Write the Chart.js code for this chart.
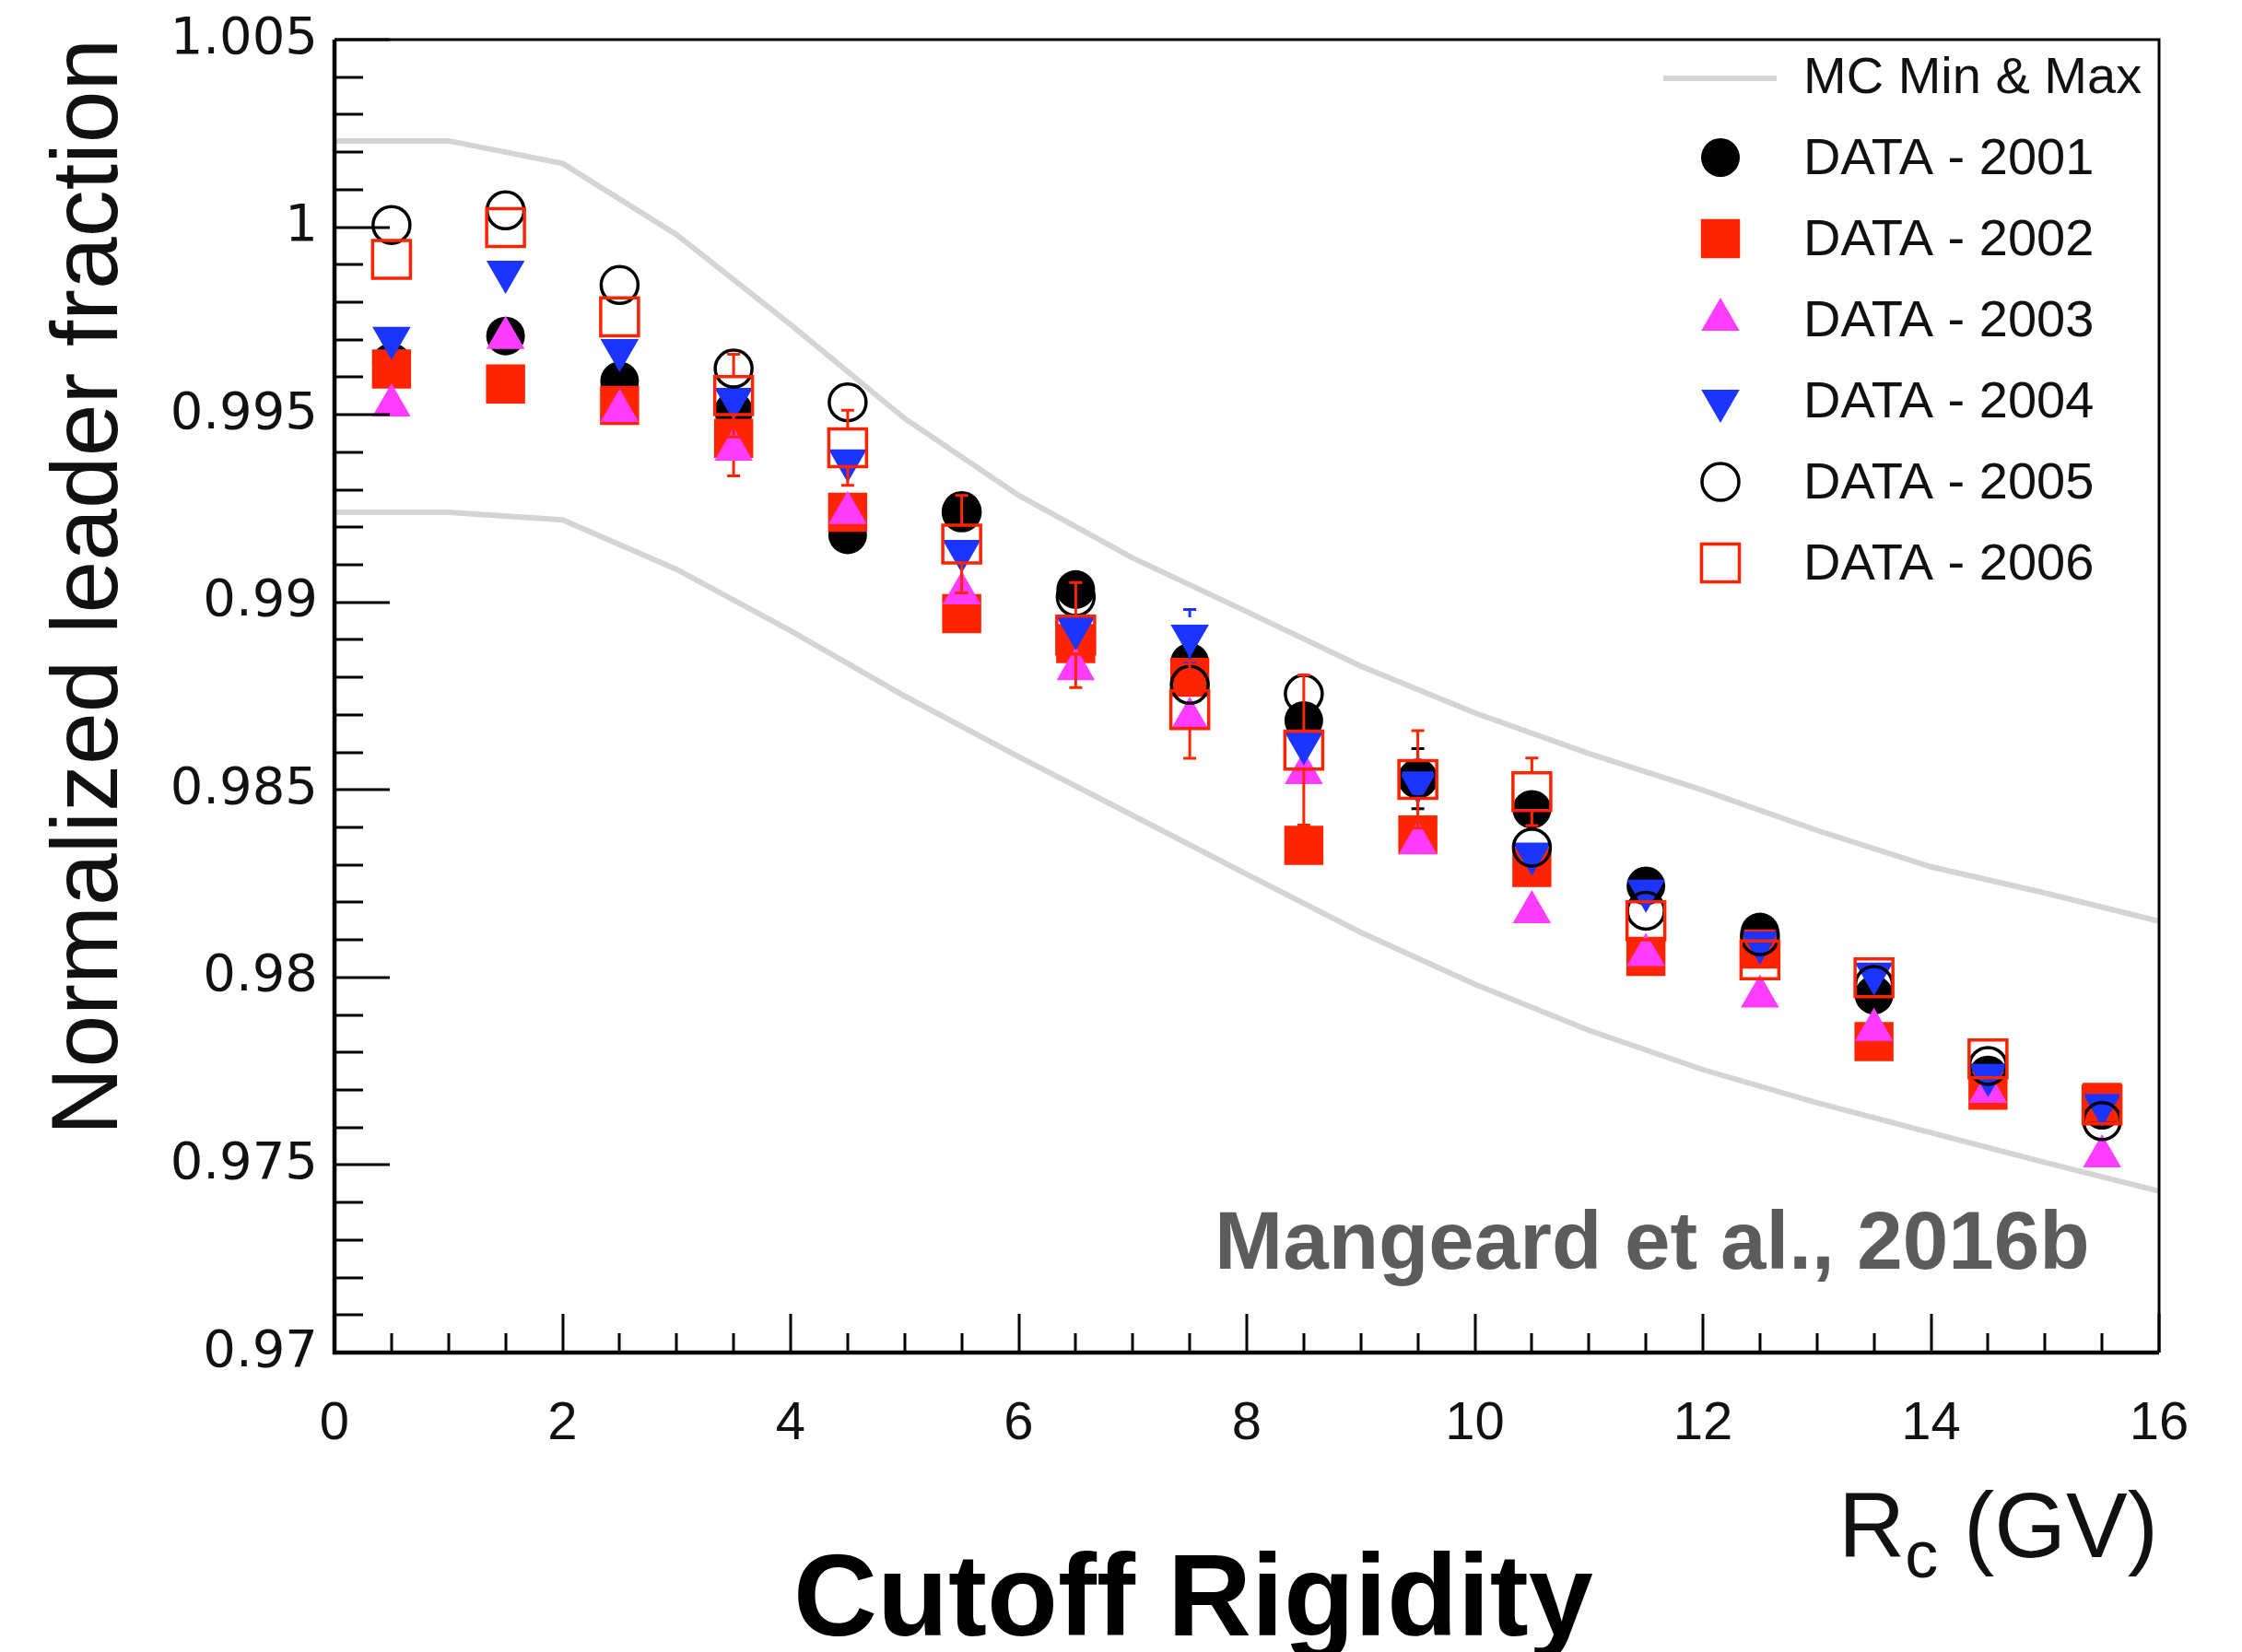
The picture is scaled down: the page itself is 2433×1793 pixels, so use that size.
<!DOCTYPE html>
<html>
<head>
<meta charset="utf-8">
<script src="https://cdn.jsdelivr.net/npm/chart.js@4.4.1/dist/chart.umd.min.js"></script>
<style>
  html, body { margin: 0; padding: 0; background: #ffffff; }
  #wrap { width: 2433px; height: 1793px; position: relative; }
</style>
</head>
<body>
<div id="wrap"><canvas id="c" width="2433" height="1793"></canvas></div>
<script>
// ---------------- DATA ----------------
const rigidity = [0.5, 1.5, 2.5, 3.5, 4.5, 5.5, 6.5, 7.5, 8.5, 9.5, 10.5, 11.5, 12.5, 13.5, 14.5, 15.5];

const data2001 = [0.9964, 0.9971, 0.9959, 0.9951, 0.9918, 0.99245, 0.99034, 0.9884, 0.98685, 0.9853, 0.98448, 0.98244, 0.98121, 0.97953, 0.9774, 0.97646];
const data2002 = [0.99622, 0.99582, 0.99525, 0.99437, 0.9924, 0.9897, 0.9889, 0.9880, 0.98352, 0.9838, 0.98293, 0.98056, 0.98076, 0.97829, 0.97699, 0.97667];
const data2003 = [0.99525, 0.99705, 0.9951, 0.99407, 0.99238, 0.99024, 0.98822, 0.9869, 0.98545, 0.98358, 0.98174, 0.9806, 0.97949, 0.9786, 0.97695, 0.97523];
const data2004 = [0.99705, 0.99881, 0.99672, 0.99542, 0.99378, 0.99137, 0.98931, 0.98911, 0.98624, 0.9852, 0.9833, 0.98231, 0.98093, 0.9801, 0.9774, 0.9766];
const data2005 = [1.00006, 1.00045, 0.99846, 0.99623, 0.99533, 0.9924, 0.99014, 0.9878, 0.98756, 0.9853, 0.98346, 0.98178, 0.9811, 0.9798, 0.97764, 0.97617];
const data2006 = [0.99914, 0.99999, 0.99761, 0.99551, 0.99412, 0.99155, 0.98913, 0.98714, 0.98606, 0.98528, 0.98495, 0.98151, 0.98047, 0.97999, 0.97783, 0.9766];

const err2001 = [0.0004, 0.0004, 0.0004, 0.0004, 0.0004, 0.0004, 0.0004, 0.0004, 0.0004, 0.0008, 0.0004, 0.0004, 0.0004, 0.0004, 0.0004, 0.0004];
const err2002 = [0.0004, 0.0004, 0.0004, 0.0010, 0.0004, 0.0004, 0.0004, 0.0004, 0.0004, 0.0004, 0.0004, 0.0004, 0.0004, 0.0004, 0.0004, 0.0004];
const err2003 = [0.0003, 0.0003, 0.0003, 0.0003, 0.0003, 0.0003, 0.0003, 0.0003, 0.0003, 0.0003, 0.0003, 0.0003, 0.0003, 0.0003, 0.0003, 0.0003];
const err2004 = [0.0003, 0.0003, 0.0003, 0.0003, 0.0003, 0.0003, 0.0003, 0.0007, 0.0003, 0.0003, 0.0003, 0.0003, 0.0003, 0.0003, 0.0003, 0.0003];
const err2005 = [0.0004, 0.0004, 0.0004, 0.0004, 0.0004, 0.0004, 0.0004, 0.0004, 0.0004, 0.0004, 0.0004, 0.0004, 0.0004, 0.0004, 0.0004, 0.0004];
const err2006 = [0.0004, 0.0004, 0.0004, 0.0011, 0.0010, 0.0013, 0.0014, 0.0013, 0.0020, 0.0013, 0.0009, 0.0005, 0.0004, 0.0004, 0.0004, 0.0004];

const mcRigidity = [0, 1, 2, 3, 4, 5, 6, 7, 8, 9, 10, 11, 12, 13, 14, 15, 16];
const mcMax = [1.0023, 1.0023, 1.0017, 0.9998, 0.9974, 0.9949, 0.99285, 0.99118, 0.98975, 0.9883, 0.98705, 0.98597, 0.98499, 0.98392, 0.98295, 0.98225, 0.9815];
const mcMin = [0.9924, 0.9924, 0.9922, 0.99088, 0.98924, 0.9875, 0.98588, 0.98432, 0.98275, 0.9812, 0.97982, 0.97859, 0.97754, 0.97666, 0.97586, 0.97507, 0.9743];

const xTickLabels = ['0', '2', '4', '6', '8', '10', '12', '14', '16'];
const yTickLabels = ['0.97', '0.975', '0.98', '0.985', '0.99', '0.995', '1', '1.005'];

const seriesLabels = ['DATA - 2001', 'DATA - 2002', 'DATA - 2003', 'DATA - 2004', 'DATA - 2005', 'DATA - 2006'];
const mcLabel = 'MC Min & Max';

// ---------------- STYLES ----------------
const BLACK = '#000000', RED = 'rgb(255,36,0)', MAGENTA = 'rgb(255,60,255)', BLUE = 'rgb(28,52,255)', GREY = 'rgb(212,212,212)';

function pts(xs, ys) { return xs.map((x, i) => ({ x: x, y: ys[i] })); }

function markerSet(label, ys, errs, style, order) {
  return Object.assign({
    label: label,
    data: pts(rigidity, ys),
    errors: errs,
    showLine: false,
    order: order
  }, style);
}

const styles = [
  { pointStyle: 'circle', pointRadius: 21, pointRotation: 0, pointBackgroundColor: BLACK, pointBorderColor: BLACK, pointBorderWidth: 0, errColor: BLACK, errGap: 21 },
  { pointStyle: 'rect', pointRadius: 30, pointRotation: 0, pointBackgroundColor: RED, pointBorderColor: RED, pointBorderWidth: 0, errColor: RED, errGap: 21 },
  { pointStyle: 'triangle', pointRadius: 24, pointRotation: 0, pointBackgroundColor: MAGENTA, pointBorderColor: MAGENTA, pointBorderWidth: 0, errColor: MAGENTA, errGap: 20 },
  { pointStyle: 'triangle', pointRadius: 24, pointRotation: 180, pointBackgroundColor: BLUE, pointBorderColor: BLUE, pointBorderWidth: 0, errColor: BLUE, errGap: 20 },
  { pointStyle: 'circle', pointRadius: 20, pointRotation: 0, pointBackgroundColor: 'rgba(0,0,0,0)', pointBorderColor: BLACK, pointBorderWidth: 3.5, errColor: BLACK, errGap: 21 },
  { pointStyle: 'rect', pointRadius: 29, pointRotation: 0, pointBackgroundColor: 'rgba(0,0,0,0)', pointBorderColor: RED, pointBorderWidth: 3.5, errColor: RED, errGap: 21 }
];

const datasets = [
  { label: mcLabel, data: pts(mcRigidity, mcMax), showLine: true, borderColor: GREY, borderWidth: 6, pointRadius: 0, tension: 0, order: 20 },
  { label: mcLabel + ' (min)', data: pts(mcRigidity, mcMin), showLine: true, borderColor: GREY, borderWidth: 6, pointRadius: 0, tension: 0, order: 21 },
  markerSet(seriesLabels[0], data2001, err2001, styles[0], 6),
  markerSet(seriesLabels[1], data2002, err2002, styles[1], 5),
  markerSet(seriesLabels[2], data2003, err2003, styles[2], 4),
  markerSet(seriesLabels[3], data2004, err2004, styles[3], 3),
  markerSet(seriesLabels[4], data2005, err2005, styles[4], 2),
  markerSet(seriesLabels[5], data2006, err2006, styles[5], 1)
];

// ---------------- HELPERS ----------------
function drawMarker(ctx, st, x, y) {
  ctx.save();
  ctx.fillStyle = st.pointBackgroundColor;
  ctx.strokeStyle = st.pointBorderColor;
  ctx.lineWidth = st.pointBorderWidth;
  if (Chart.helpers && Chart.helpers.drawPoint) {
    Chart.helpers.drawPoint(ctx, { pointStyle: st.pointStyle, radius: st.pointRadius, rotation: st.pointRotation, borderWidth: st.pointBorderWidth }, x, y);
  }
  ctx.restore();
}

const decor = {
  id: 'decor',
  beforeDatasetDraw(chart, args) {
    const ds = chart.data.datasets[args.index];
    if (!ds.errors) return;
    const xs = chart.scales.x, ys = chart.scales.y, ctx = chart.ctx;
    ctx.save();
    ctx.strokeStyle = ds.errColor;
    ctx.lineWidth = 3;
    ds.data.forEach((p, i) => {
      const e = ds.errors[i];
      const px = xs.getPixelForValue(p.x);
      const pc = ys.getPixelForValue(p.y);
      const y1 = ys.getPixelForValue(p.y + e);
      const y2 = ys.getPixelForValue(p.y - e);
      if (pc - y1 <= ds.errGap) return;
      ctx.beginPath();
      ctx.moveTo(px, y1); ctx.lineTo(px, pc - ds.errGap);
      ctx.moveTo(px, y2); ctx.lineTo(px, pc + ds.errGap);
      ctx.moveTo(px - 7, y1); ctx.lineTo(px + 7, y1);
      ctx.moveTo(px - 7, y2); ctx.lineTo(px + 7, y2);
      ctx.stroke();
    });
    ctx.restore();
  },
  afterDraw(chart) {
    const ctx = chart.ctx, a = chart.chartArea;
    const xs = chart.scales.x, ys = chart.scales.y;
    ctx.save();
    // ---- ticks (inward) ----
    ctx.strokeStyle = '#000';
    ctx.lineWidth = 3;
    ctx.beginPath();
    for (let i = 0; i <= 32; i++) {
      const v = i * 0.5;
      const px = Math.round(xs.getPixelForValue(v));
      const len = (i % 4 === 0) ? 42 : 21;
      ctx.moveTo(px, a.bottom); ctx.lineTo(px, a.bottom - len);
    }
    for (let i = 0; i <= 35; i++) {
      const v = 0.97 + i * 0.001;
      const py = Math.round(ys.getPixelForValue(v));
      const len = (i % 5 === 0) ? 60 : 31;
      ctx.moveTo(a.left, py); ctx.lineTo(a.left + len, py);
    }
    ctx.stroke();
    // ---- frame ----
    ctx.lineWidth = 3;
    ctx.beginPath();
    ctx.moveTo(a.left, a.top); ctx.lineTo(a.right, a.top); ctx.lineTo(a.right, a.bottom);
    ctx.stroke();
    ctx.lineWidth = 4.5;
    ctx.beginPath();
    ctx.moveTo(a.left, a.top); ctx.lineTo(a.left, a.bottom); ctx.lineTo(a.right, a.bottom);
    ctx.stroke();

    // ---- legend ----
    const lx = 1867, tx = 1957, baseY = 101, step = 88;
    ctx.fillStyle = '#111';
    ctx.font = '56px "Liberation Sans", Arial, sans-serif';
    ctx.textAlign = 'left';
    ctx.textBaseline = 'alphabetic';
    ctx.strokeStyle = GREY;
    ctx.lineWidth = 6;
    ctx.beginPath();
    ctx.moveTo(1805, baseY - 16); ctx.lineTo(1928, baseY - 16);
    ctx.stroke();
    ctx.fillText(mcLabel, tx, baseY);
    for (let k = 0; k < 6; k++) {
      const by = baseY + step * (k + 1);
      drawMarker(ctx, styles[k], lx, by - 18);
      ctx.fillStyle = '#111';
      ctx.fillText(seriesLabels[k], tx, by);
    }

    // ---- y axis title ----
    ctx.save();
    ctx.translate(127, 637);
    ctx.rotate(-Math.PI / 2);
    ctx.textAlign = 'center';
    ctx.fillStyle = '#111';
    ctx.font = '102px "Liberation Sans", Arial, sans-serif';
    ctx.fillText('Normalized leader fraction', 0, 0);
    ctx.restore();

    // ---- x axis title R_c (GV) ----
    ctx.fillStyle = '#111';
    ctx.textAlign = 'left';
    const fMain = '100px "Liberation Sans", Arial, sans-serif';
    const fSub = '72px "Liberation Sans", Arial, sans-serif';
    ctx.font = fMain;
    const wR = ctx.measureText('R').width;
    const wG = ctx.measureText(' (GV)').width;
    ctx.font = fSub;
    const wc = ctx.measureText('c').width;
    const endX = 2342;
    const startX = endX - wR - wc - wG;
    ctx.font = fMain;
    ctx.fillText('R', startX, 1690);
    ctx.font = fSub;
    ctx.fillText('c', startX + wR, 1712);
    ctx.font = fMain;
    ctx.fillText(' (GV)', startX + wR + wc, 1690);

    // ---- annotation ----
    ctx.fillStyle = '#5c5c5c';
    ctx.font = 'bold 89px "Liberation Sans", Arial, sans-serif';
    ctx.fillText('Mangeard et al., 2016b', 1318, 1377);

    // ---- big caption ----
    ctx.fillStyle = '#000';
    ctx.textAlign = 'center';
    ctx.font = 'bold 126px "Liberation Sans", Arial, sans-serif';
    ctx.fillText('Cutoff Rigidity', 1295, 1775);
    ctx.restore();
  }
};

new Chart(document.getElementById('c'), {
  type: 'scatter',
  data: { datasets: datasets },
  plugins: [decor],
  options: {
    responsive: false,
    devicePixelRatio: 1,
    animation: false,
    events: [],
    layout: { padding: { top: 43, right: 90, bottom: 0, left: 0 } },
    plugins: { legend: { display: false }, tooltip: { enabled: false }, title: { display: false } },
    scales: {
      x: {
        type: 'linear', min: 0, max: 16,
        grid: { display: false, drawTicks: false },
        border: { display: false },
        afterFit(s) { s.height = 325; },
        ticks: {
          stepSize: 2, padding: 43, color: '#111', maxRotation: 0, autoSkip: false,
          font: { family: '"Liberation Sans", Arial, sans-serif', size: 58 },
          callback: (v, i) => xTickLabels[i]
        }
      },
      y: {
        type: 'linear', min: 0.97, max: 1.005,
        grid: { display: false, drawTicks: false },
        border: { display: false },
        afterFit(s) { s.width = 363; },
        ticks: {
          stepSize: 0.005, padding: 18, color: '#111', autoSkip: false,
          font: { family: '"DejaVu Sans", sans-serif', size: 56, lineHeight: 0.8 },
          callback: (v, i) => yTickLabels[i]
        }
      }
    }
  }
});
</script>
</body>
</html>
